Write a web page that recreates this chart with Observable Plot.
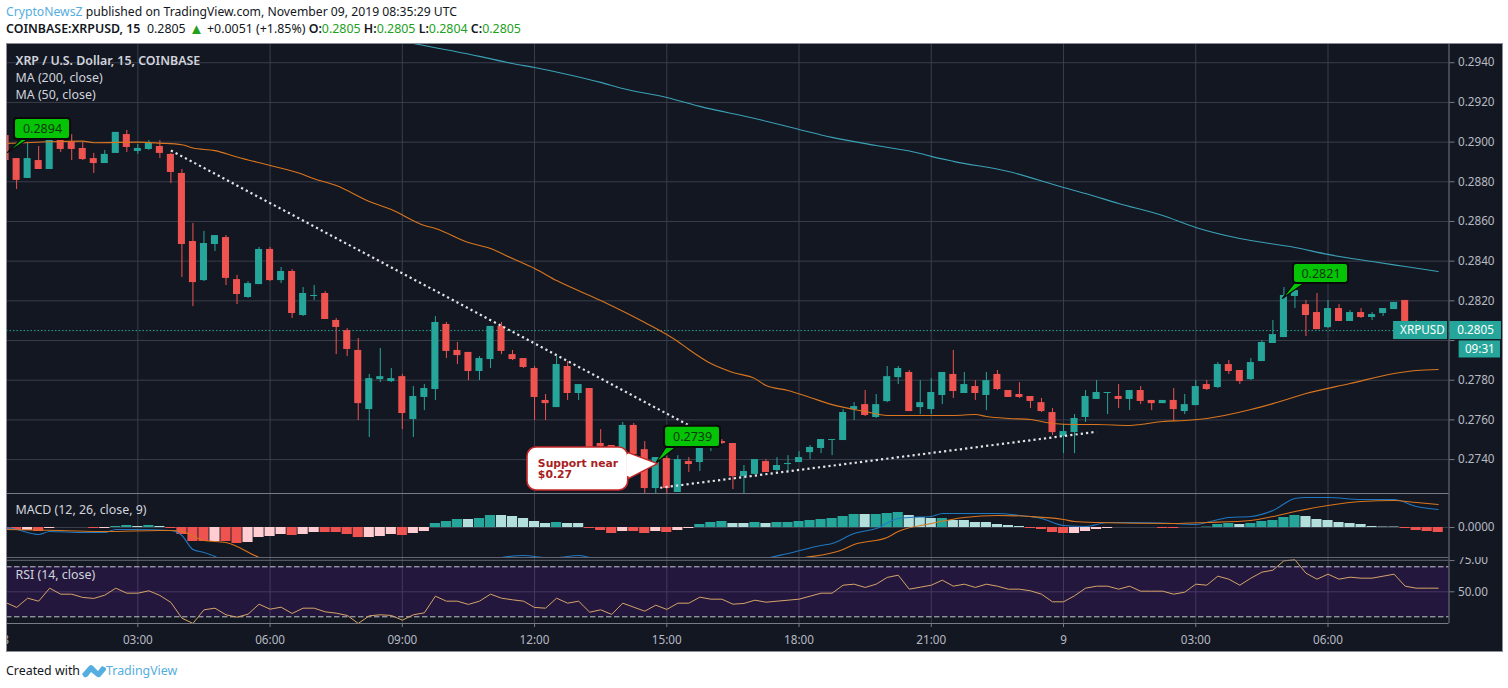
<!DOCTYPE html>
<html><head><meta charset="utf-8">
<script src="https://cdn.jsdelivr.net/npm/d3@7"></script>
<script src="https://cdn.jsdelivr.net/npm/@observablehq/plot@0.6"></script>
<style>
html,body{margin:0;padding:0;background:#fff;width:1508px;height:688px;overflow:hidden}
body{position:relative;font-family:"Noto Sans",sans-serif;color:#131722}
.t{position:absolute;white-space:nowrap;font-size:12.4px;line-height:16px}
.t b{font-weight:600}.g{color:#22a022}.bl{color:#55aee0}
.tri{font-size:15px;line-height:12px;vertical-align:-1px}
#panels>div{position:absolute;left:6px}
#panels svg{display:block}
#frame{position:absolute;left:6px;top:43px;width:1497px;height:609px;box-sizing:border-box;border:1px solid #8b8e96;pointer-events:none}
</style></head><body>
<div class="t" style="left:6px;top:4px;font-size:12.2px"><span class="bl">CryptoNewsZ</span> published on TradingView.com, November 09, 2019 08:35:29 UTC</div>
<div class="t" style="left:6px;top:21px"><b>COINBASE:XRPUSD, 15</b>&nbsp; 0.2805 <span class="g tri">▲</span> +0.0051 (+1.85%) <b>O:</b><span class="g">0.2805</span> <b>H:</b><span class="g">0.2805</span> <b>L:</b><span class="g">0.2804</span> <b>C:</b><span class="g">0.2805</span></div>
<div id="panels"></div>
<div id="frame"></div>
<div class="t" style="left:6px;top:663px">Created with</div>
<svg style="position:absolute;left:82px;top:663px" width="24" height="15" viewBox="0 0 24 15"><path d="M0 11 L7 3 Q9 1 11 3 L16 8 L20 3 L24 5 L24 7 L18 14 Q16 15 14 13 L9 9 L6 13 Q4 15 2 14Z" fill="#55aee0"/></svg>
<div class="t bl" style="left:106px;top:663px">TradingView</div>
<script>
const candleOpen=[.29033,.28917,.28817,.28907,.28862,.29049,.28998,.28968,.28917,.28892,.28943,.29038,.28953,.28963,.28978,.28938,.28842,.28499,.28302,.28484,.28519,.28307,.28217,.28282,.28459,.28302,.28348,.28126,.28222,.28237,.28101,.28050,.27950,.27652,.27803,.27793,.27818,.27602,.27713,.27753,.28081,.27950,.27940,.27844,.27904,.28071,.27929,.27909,.27859,.27698,.27662,.27869,.27733,.27758,.27481,.27471,.27430,.27572,.27450,.27254,.27405,.27234,.27390,.27385,.27461,.27491,.27481,.27314,.27325,.27390,.27345,.27375,.27385,.27435,.27456,.27496,.27496,.27652,.27677,.27612,.27692,.27813,.27839,.27662,.27652,.27723,.27829,.27733,.27768,.27723,.27829,.27748,.27728,.27718,.27687,.27637,.27516,.27536,.27612,.27703,.27733,.27718,.27703,.27748,.27698,.27682,.27698,.27642,.27672,.27778,.27763,.27879,.27849,.27803,.27894,.27985,.28015,.28222,.28181,.28141,.28065,.28161,.28096,.28141,.28116,.28136,.28156,.28202,.28091,.28076,.28050];
const candleHigh=[.29033,.28917,.28998,.28978,.29049,.29049,.29038,.28998,.28943,.28958,.29049,.29059,.28988,.29008,.29008,.28943,.28862,.28590,.28550,.28529,.28529,.28328,.28297,.28469,.28469,.28368,.28358,.28267,.28277,.28247,.28111,.28060,.28010,.27829,.27960,.27859,.27829,.27768,.27778,.28121,.28091,.27990,.27940,.27919,.28071,.28091,.27950,.27909,.27869,.27728,.27919,.27894,.27778,.27758,.27551,.27471,.27587,.27582,.27491,.27410,.27420,.27420,.27410,.27486,.27506,.27501,.27481,.27370,.27400,.27400,.27410,.27420,.27440,.27471,.27501,.27501,.27652,.27687,.27748,.27728,.27869,.27869,.27849,.27798,.27808,.27839,.27950,.27839,.27798,.27839,.27849,.27748,.27788,.27718,.27708,.27657,.27577,.27627,.27748,.27798,.27738,.27778,.27748,.27768,.27698,.27698,.27758,.27728,.27798,.27798,.27889,.27899,.27849,.27909,.28000,.28101,.28267,.28252,.28202,.28237,.28202,.28181,.28151,.28161,.28141,.28161,.28192,.28202,.28101,.28076,.28050];
const candleLow=[.28882,.28761,.28817,.28862,.28862,.28948,.28907,.28907,.28842,.28892,.28943,.28948,.28938,.28958,.28917,.28791,.28318,.28171,.28297,.28449,.28277,.28181,.28212,.28282,.28297,.28287,.28111,.28121,.28202,.28106,.27929,.27919,.27597,.27511,.27788,.27788,.27551,.27511,.27647,.27698,.27909,.27879,.27798,.27798,.27859,.27929,.27899,.27859,.27597,.27597,.27662,.27698,.27698,.27460,.27244,.27440,.27420,.27345,.27229,.27229,.27229,.27234,.27335,.27340,.27440,.27476,.27249,.27229,.27325,.27335,.27340,.27340,.27385,.27400,.27430,.27420,.27496,.27597,.27617,.27607,.27687,.27778,.27642,.27627,.27627,.27677,.27708,.27733,.27698,.27647,.27748,.27713,.27708,.27657,.27637,.27521,.27430,.27430,.27587,.27703,.27627,.27657,.27647,.27677,.27647,.27682,.27592,.27627,.27672,.27748,.27758,.27829,.27778,.27798,.27894,.27985,.28015,.28161,.28020,.28055,.28060,.28096,.28096,.28111,.28101,.28121,.28156,.28091,.28060,.28005,.28040];
const candleClose=[.28907,.28807,.28917,.28862,.29049,.28963,.28963,.28912,.28892,.28938,.29049,.28973,.28968,.28993,.28943,.28847,.28484,.28292,.28489,.28529,.28313,.28232,.28287,.28459,.28302,.28348,.28136,.28237,.28227,.28106,.28066,.27955,.27682,.27808,.27818,.27808,.27632,.27718,.27758,.28091,.27945,.27924,.27844,.27909,.28071,.27945,.27904,.27864,.27713,.27682,.27879,.27733,.27778,.27460,.27466,.27455,.27572,.27425,.27254,.27410,.27254,.27400,.27375,.27456,.27496,.27481,.27314,.27340,.27400,.27335,.27370,.27380,.27410,.27461,.27501,.27501,.27637,.27667,.27622,.27677,.27818,.27859,.27642,.27687,.27738,.27839,.27743,.27778,.27733,.27798,.27753,.27713,.27713,.27693,.27642,.27536,.27541,.27607,.27718,.27738,.27738,.27703,.27748,.27693,.27682,.27698,.27652,.27677,.27768,.27753,.27879,.27844,.27793,.27889,.27990,.28030,.28227,.28252,.28126,.28055,.28161,.28096,.28141,.28116,.28131,.28161,.28192,.28091,.28060,.28050,.28050];
const ma50Bars=[0,4,7,8,12,14,16,17,19,21,24,27,28,30,33,35,38,39,42,44,46,48,50,54,58,61,62,64,66,68,69,71,73,75,78,80,83,86,88,89,91,93,95,97,99,102,103,105,107,109,113,115,118,122,126,128,130];
const ma50Values=[.28993,.29002,.29005,.28997,.29000,.28995,.28987,.28970,.28957,.28925,.28882,.28837,.28815,.28781,.28701,.28660,.28580,.28565,.28494,.28464,.28413,.28363,.28302,.28202,.28091,.27995,.27955,.27884,.27839,.27808,.27773,.27748,.27713,.27677,.27642,.27622,.27622,.27622,.27627,.27617,.27607,.27602,.27582,.27577,.27577,.27572,.27577,.27592,.27597,.27607,.27652,.27682,.27733,.27783,.27834,.27849,.27854];
const ma200Bars=[37,43,46,48,51,54,56,60,63,68,72,75,79,83,84,86,91,96,98,101,105,108,112,117,120,124,127,130];
const ma200Values=[.29497,.29432,.29396,.29376,.29341,.29301,.29270,.29225,.29180,.29119,.29064,.29024,.28983,.28943,.28928,.28903,.28852,.28771,.28741,.28691,.28630,.28570,.28514,.28469,.28434,.28398,.28373,.28348];
// MACD panel values are in units of 0.00001
const macdHist=[-2,-3,-3,-4,-1,0,0,0,-1,-1,1,2,1,2,1,-1,-7,-14,-14,-14,-14,-16,-15,-10,-9,-7,-8,-7,-5,-5,-5,-7,-10,-10,-9,-7,-8,-6,-4,4,6,8,8,9,12,12,11,9,6,4,5,4,4,-1,-3,-6,-4,-4,-6,-4,-5,-3,-1,3,5,6,4,4,5,4,5,5,6,7,8,9,11,13,13,13,14,15,12,10,9,9,7,7,5,5,3,2,1,-1,-2,-5,-6,-6,-4,-2,-1,0,0,0,0,-1,-1,0,0,.5,3,4,3,4,6,7,10,12,11,8,7,5,4,3,1,.5,.5,-1,-3,-4,-5];
const macdTones=["RRPRPPPPRP","GGLGL","RRRRPRRPPP","PRPPRRRRPP","PRPP","GGGLGGLLLL","LGLL","RRRPRRPRPP","GGGLLGLGGG","GGGGGLGGGL","LLGLLLLLLL","RRRRPPPPPP","PPRRPP","GGGLGGGGGL","LLLLLLLL","RRRR"].join("").split("");
const macdBars=[0,1,3,4,7,9,10,12,15,16,17,18,19,20,24,30,36,39,42,45,47,49,50,52,53,56,60,65,69,71,74,75,77,79,81,82,84,85,87,90,92,94,96,98,100,102,106,108,109,111,113,115,117,118,120,123,126,128,130];
const macdLine=[0,-2,-7,-4,-5,-5,-2,-2,-3,-8,-22,-25,-29,-35,-51,-63,-61,-48,-38,-30,-28,-30,-30,-28,-30,-43,-51,-45,-31,-26,-18,-16,-6,-1,9,10,11,14,14,14,12,9,2,1,5,5,4,3,5,10,11,17,29,30,30,28,28,21,18];
const signalBars=[0,5,9,14,15,16,18,20,23,30,40,50,60,72,76,77,80,81,84,87,90,93,96,97,99,106,109,113,115,117,120,123,126,128,130];
const signalLine=[-2,-3,-4,-3,-3,-4,-13,-15,-30,-48,-63,-61,-51,-31,-22,-17,-10,-4,4,10,12,11,8,6,5,4,5,7,11,16,22,26,27,25,23];
const rsiValues=[41.5,37.5,44.9,42.5,52.9,48.1,48.1,45.5,44.7,47.3,52.9,48.9,48.9,50.8,47.1,41.5,28.9,24.7,35.6,36.9,31.6,29.7,32.1,40.1,36.1,37.7,32.7,36.9,36.9,34,32.9,31.1,24.7,30.8,31.6,31.1,27.3,31.6,33.2,46.5,42.5,42.5,39.9,42.5,48.1,44.9,43.6,42.5,37.5,36.9,44.9,40.9,42.5,33.7,35.6,31.9,40.9,37.7,34.5,39.3,35.9,40.9,40.9,45.7,44.1,44.1,40.1,40.7,43.3,41.7,42.5,43.3,44.1,46.5,48.9,48.9,55.3,56.1,53.5,56.1,61.5,63.3,52.1,53.7,55.3,59.3,54.5,56.1,53.5,56.1,54.5,52.1,52.1,50.8,48.1,42,42,46.8,52.9,54.5,54.5,52.1,54.5,50.5,50.5,50.5,48.1,49.7,56.1,55.3,62.5,60.1,55.3,60.9,65.7,67.3,74.8,75.6,64.9,60.1,64.1,60.1,61.7,60.9,60.9,62.5,64.1,54.5,52.9,52.9,52.9];
const priceTicks=[.274,.276,.278,.28,.282,.284,.286,.288,.29,.292,.294];
const timeTicks=[0,12,24,36,48,60,72,84,96,108,120];
const timeLabels=["8","03:00","06:00","09:00","12:00","15:00","18:00","21:00","9","03:00","06:00"];
const resistanceLine=[[15,.28958],[65,.27484]];
const supportLine=[[59.4,.27258],[99,.27540]];
const priceFlags=[{text:"0.2894",x1:.81,x2:5.89,y1:.29013,y2:.29119,tip:[[1.4,.29013],[.17,.28948],[2,.29013]]},{text:"0.2739",x1:59.8,x2:64.87,y1:.27461,y2:.27568,tip:[[59.9,.27461],[58.97,.27380],[60.8,.27461]]},{text:"0.2821",x1:116.87,x2:121.86,y1:.28287,y2:.28388,tip:[[116.9,.28287],[115.87,.28212],[117.8,.28287]]}];
const supportNote={text:"Support near\n$0.27",x1:47.36,x2:56.5,y1:.27244,y2:.27461,tip:[[56.5,.27435],[59.15,.27380],[56.5,.27304]],textBar:48.3,textPrice:.27352};

const C={bg:"#131722",grid:"#3a3e4a",axis:"#787b86",txt:"#b7bac3",up:"#26a69a",dn:"#ef5350",ma50:"#d9751e",ma200:"#3aa0b5",blue:"#1f77c0",font:'"Noto Sans",sans-serif'};
const xDomain=[.082,130.98];
const base={width:1497,marginLeft:0,marginRight:54.5,x:{domain:xDomain,axis:null},style:{background:C.bg,fontFamily:C.font,fontSize:"11.7px",color:C.txt,overflow:"hidden"}};
const candles=candleOpen.map((o,i)=>({i,o,h:candleHigh[i],l:candleLow[i],c:candleClose[i],col:candleClose[i]<o?C.dn:C.up}));
const series=(xs,ys)=>xs.map((b,k)=>({b,v:ys[k]}));
const gridX=Plot.gridX(timeTicks,{stroke:C.grid,strokeOpacity:1});
const yTickOpts=(fmt,ticks)=>({anchor:"right",ticks,tickFormat:fmt,tickSize:5,tickPadding:4,stroke:C.axis,fill:C.txt,label:null,strokeOpacity:1});
const axisRule=Plot.ruleX([xDomain[1]],{stroke:C.axis});
const legend=(text,dy,w)=>Plot.text([text],{frameAnchor:"top-left",dx:9,dy,textAnchor:"start",lineAnchor:"top",fill:"#d1d4dc",fontWeight:w||400,fontSize:12.4});
const smooth="monotone-x";

const main=Plot.plot({...base,height:450,marginTop:0,marginBottom:0,
 y:{domain:[.27229,.29497],axis:null},
 marks:[
  Plot.gridY(priceTicks,{stroke:C.grid,strokeOpacity:1}),gridX,
  Plot.ruleY([.2805],{stroke:C.up,strokeDasharray:"1.5,2",strokeWidth:1}),
  Plot.ruleX(candles,{x:"i",y1:"l",y2:"h",stroke:"col",strokeWidth:1}),
  Plot.rect(candles,{x1:d=>d.i-.32,x2:d=>d.i+.32,y1:"o",y2:"c",fill:"col"}),
  Plot.line(series(ma50Bars,ma50Values),{x:"b",y:"v",stroke:C.ma50,strokeWidth:1.1,curve:smooth}),
  Plot.line(series(ma200Bars,ma200Values),{x:"b",y:"v",stroke:C.ma200,strokeWidth:1.1,curve:smooth}),
  ...[resistanceLine,supportLine].map(l=>Plot.line(l,{x:"0",y:"1",stroke:"#e4e4e8",strokeWidth:2.2,strokeDasharray:"2.2,3.1",strokeLinecap:"butt"})),
  ...priceFlags.flatMap(f=>[
    Plot.line(f.tip,{x:"0",y:"1",fill:"#05c305",stroke:"#0a0a0a",strokeWidth:1.2}),
    Plot.rect([f],{x1:"x1",x2:"x2",y1:"y1",y2:"y2",fill:"#05c305",stroke:"#0a0a0a",strokeWidth:2,rx:3}),
    Plot.text([f],{x:d=>(d.x1+d.x2)/2,y:d=>(d.y1+d.y2)/2,text:"text",fill:"#0b3b0b",fontSize:12.5})
  ]),
  Plot.line(supportNote.tip,{x:"0",y:"1",fill:"#fff",stroke:"#c62828",strokeWidth:1.4}),
  Plot.rect([supportNote],{x1:"x1",x2:"x2",y1:"y1",y2:"y2",fill:"#fff",stroke:"#c62828",strokeWidth:1.6,rx:9}),
  Plot.ruleX([supportNote.x2],{y1:.27425,y2:.27314,stroke:"#fff",strokeWidth:2.5}),
  Plot.text([supportNote],{x:"textBar",y:"textPrice",text:"text",textAnchor:"start",fill:"#a81e1e",fontFamily:"DejaVu Sans",fontWeight:700,fontSize:10.8,lineHeight:1.05}),
  axisRule,
  Plot.axisY(yTickOpts(d=>d===.28?"":d.toFixed(4),priceTicks)),
  Plot.rect([{x1:125.95,x2:130.85,y1:.28005,y2:.28096},{x1:131.05,x2:135.74,y1:.28005,y2:.28096},{x1:131.9,x2:135.65,y1:.27912,y2:.27998}],{x1:"x1",x2:"x2",y1:"y1",y2:"y2",fill:C.up}),
  Plot.text(["XRPUSD"],{x:130.6,y:.2805,textAnchor:"end",fill:"#fff"}),
  Plot.text(["0.2805"],{x:131.73,y:.2805,textAnchor:"start",fill:"#fff"}),
  Plot.text(["09:31"],{x:133.78,y:.27955,fill:"#fff"}),
  legend("XRP / U.S. Dollar, 15, COINBASE",9+4,600),legend("MA (200, close)",30),legend("MA (50, close)",47)
 ]});

const hist=macdHist.map((v,i)=>({i,v,col:{G:C.up,L:"#b2dfdb",R:C.dn,P:"#ffcdd2"}[macdTones[i]]}));
const macd=Plot.plot({...base,height:64,marginTop:0,marginBottom:0,
 y:{domain:[-30,34],axis:null},
 marks:[
  Plot.gridY([0],{stroke:C.grid,strokeOpacity:1}),gridX,
  Plot.rect(hist,{x1:d=>d.i-.46,x2:d=>d.i+.46,y1:0,y2:"v",fill:"col"}),
  Plot.line(series(macdBars,macdLine),{x:"b",y:"v",stroke:C.blue,strokeWidth:1.1,curve:smooth}),
  Plot.line(series(signalBars,signalLine),{x:"b",y:"v",stroke:C.ma50,strokeWidth:1.1,curve:smooth}),
  Plot.ruleY([34],{stroke:C.axis}),
  axisRule,
  Plot.axisY(yTickOpts(()=>"0.0000",[0])),
  legend("MACD (12, 26, close, 9)",12)
 ]});

const rsi=Plot.plot({...base,height:95,marginTop:0,marginBottom:29,
 y:{domain:[24.64,77.44],axis:null},
 marks:[
  Plot.gridY([50],{stroke:C.grid,strokeOpacity:1}),gridX,
  Plot.rect([{a:xDomain[0],b:xDomain[1],c:30,d:70}],{x1:"a",x2:"b",y1:"c",y2:"d",fill:"#9915ff",fillOpacity:.13}),
  Plot.ruleY([70,30],{stroke:"#c4c5cf",strokeDasharray:"5.5,2.5"}),
  Plot.line(rsiValues.map((v,i)=>({i,v})),{x:"i",y:"v",stroke:"#d6a468",strokeWidth:1}),
  Plot.ruleY([77.44,75.2],{stroke:C.axis,strokeOpacity:.8}),
  Plot.ruleY([24.64],{stroke:C.axis}),
  axisRule,
  Plot.axisY(yTickOpts(d=>d.toFixed(2),[50,75])),
  Plot.axisX({anchor:"bottom",ticks:timeTicks,tickFormat:d=>timeLabels[timeTicks.indexOf(d)],tickSize:4,tickPadding:8,stroke:C.axis,fill:C.txt,label:null}),
  legend("RSI (14, close)",13)
 ]});

const holder=document.getElementById("panels");
[[main,43],[macd,493],[rsi,557]].forEach(([svg,top])=>{const d=document.createElement("div");d.style.top=top+"px";d.appendChild(svg);holder.appendChild(d);});
</script>
</body></html>
